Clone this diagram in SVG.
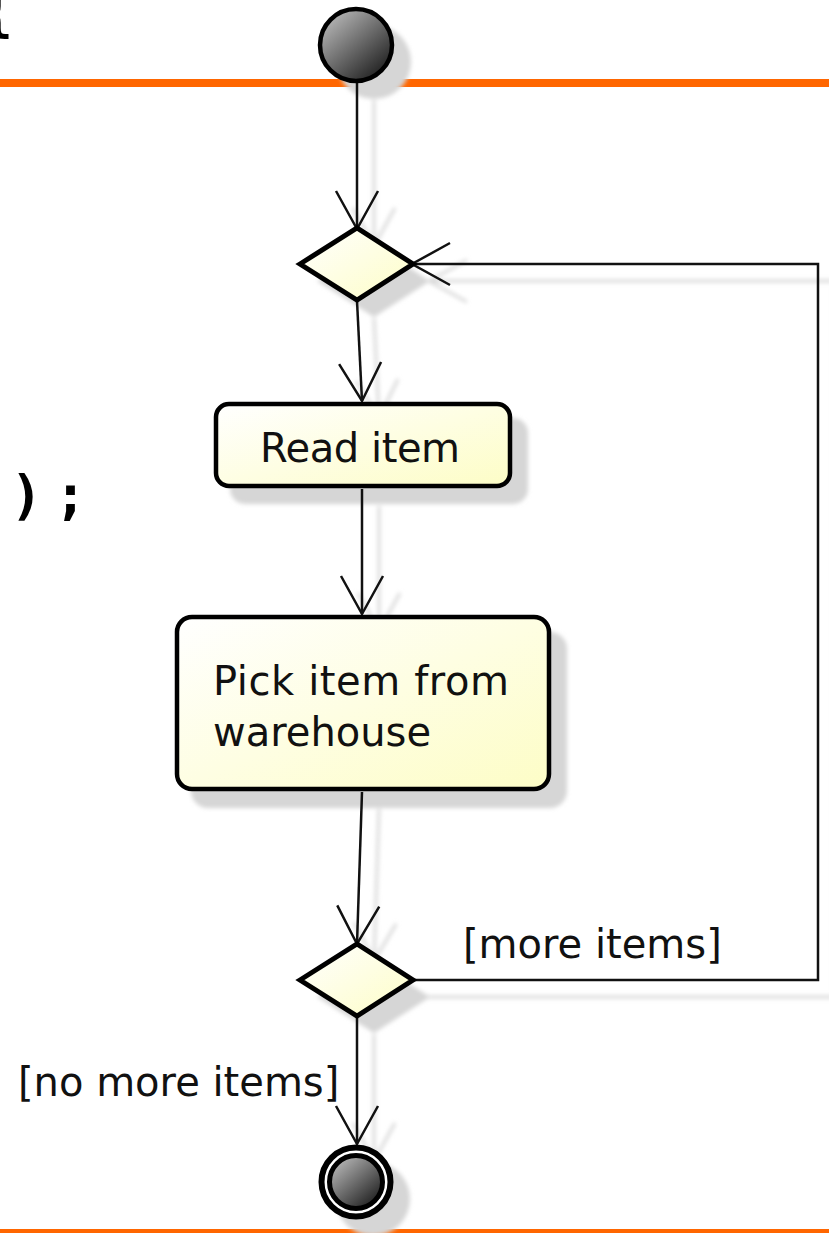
<svg xmlns="http://www.w3.org/2000/svg" width="829" height="1233" viewBox="0 0 829 1233">
<defs>
<style>
.conn{fill:none;stroke:#111;stroke-width:2.5;}
.shl{fill:none;stroke:#d9d9d9;stroke-width:3;}
.shf{fill:#d6d6d6;stroke:none;}
.box{fill:url(#yel);stroke:#000;stroke-width:4.5;}
.dia{fill:url(#yel);stroke:#000;stroke-width:5;stroke-linejoin:miter;}
.lbl{font-family:"DejaVu Sans","Noto Sans",sans-serif;font-size:40px;fill:#111;}
.code{font-family:"DejaVu Sans Mono","Liberation Mono",monospace;font-weight:bold;font-size:54px;fill:#000;}
</style>
<linearGradient id="yel" x1="0" y1="0" x2="1" y2="1">
<stop offset="0" stop-color="#ffffff"/>
<stop offset="1" stop-color="#fdfdc6"/>
</linearGradient>
<linearGradient id="ball" x1="0.15" y1="0.1" x2="0.85" y2="0.9">
<stop offset="0" stop-color="#b4b4b4"/>
<stop offset="1" stop-color="#222"/>
</linearGradient>
<filter id="blur" x="-20%" y="-20%" width="140%" height="140%">
<feGaussianBlur stdDeviation="2"/>
</filter>
<marker id="arr" markerUnits="userSpaceOnUse" markerWidth="44" markerHeight="50" viewBox="-40 -25 44 50" refX="0" refY="0" orient="auto" overflow="visible">
<path d="M-38,-21 L0,0 L-38,21" fill="none" stroke="#111" stroke-width="2.5"/>
</marker>
<marker id="arrs" markerUnits="userSpaceOnUse" markerWidth="44" markerHeight="50" viewBox="-40 -25 44 50" refX="0" refY="0" orient="auto" overflow="visible">
<path d="M-38,-21 L0,0 L-38,21" fill="none" stroke="#d9d9d9" stroke-width="3"/>
</marker>
</defs>

<g id="page-rules">
<rect x="0" y="79" width="829" height="8" fill="#ff6600"/>
<rect x="0" y="1229" width="829" height="4" fill="#ff6600"/>
</g>

<g id="code-fragments">
<text class="code" x="-3" y="31" text-anchor="middle">{</text>
<text class="code" x="26.5 70.5" y="514" text-anchor="middle">);</text>
</g>

<g id="shadows" filter="url(#blur)">
<circle class="shf" cx="374" cy="62" r="37"/>
<polygon class="shf" points="317,281 374,245 430,281 374,317"/>
<rect class="shf" x="230" y="418" width="298" height="86" rx="15"/>
<rect class="shf" x="191" y="632" width="376" height="176" rx="17"/>
<polygon class="shf" points="317,997 374,961 430,997 374,1033"/>
<circle class="shf" cx="373" cy="1199" r="37"/>
<line class="shl" x1="374" y1="100" x2="374" y2="246" marker-end="url(#arrs)"/>
<line class="shl" x1="374" y1="318" x2="379" y2="418" marker-end="url(#arrs)"/>
<line class="shl" x1="379" y1="506" x2="379" y2="631" marker-end="url(#arrs)"/>
<line class="shl" x1="379" y1="809" x2="374" y2="961" marker-end="url(#arrs)"/>
<line class="shl" x1="374" y1="1034" x2="374" y2="1161" marker-end="url(#arrs)"/>
<polyline class="shl" points="428,997 835,997 835,281 429,281" marker-end="url(#arrs)"/>
</g>

<g id="connectors">
<line class="conn" x1="357" y1="83" x2="357" y2="229" marker-end="url(#arr)"/>
<line class="conn" x1="357" y1="301" x2="362" y2="401" marker-end="url(#arr)"/>
<line class="conn" x1="362" y1="489" x2="362" y2="614" marker-end="url(#arr)"/>
<line class="conn" x1="362" y1="792" x2="357" y2="944" marker-end="url(#arr)"/>
<line class="conn" x1="357" y1="1017" x2="357" y2="1144" marker-end="url(#arr)"/>
<polyline class="conn" points="411,980 818,980 818,264 412,264" marker-end="url(#arr)"/>
</g>

<g id="start">
<circle cx="356" cy="45" r="36" fill="url(#ball)" stroke="#000" stroke-width="4.5"/>
</g>

<g id="merge">
<polygon class="dia" points="300,264 357,228 413,264 357,300"/>
</g>

<g id="read-item">
<rect class="box" x="216" y="404" width="294" height="82" rx="13"/>
<text class="lbl" x="260" y="462" textLength="200" lengthAdjust="spacing">Read item</text>
</g>

<g id="pick-item">
<rect class="box" x="177" y="617" width="372" height="172" rx="15"/>
<text class="lbl" x="213" y="695" textLength="296" lengthAdjust="spacing">Pick item from</text>
<text class="lbl" x="213" y="746">warehouse</text>
</g>

<g id="branch">
<polygon class="dia" points="300,980 357,944 413,980 357,1016"/>
</g>

<g id="end">
<circle cx="356" cy="1182" r="34.5" fill="#fff" stroke="#000" stroke-width="6"/>
<circle cx="356" cy="1182" r="26.5" fill="url(#ball)" stroke="#000" stroke-width="5"/>
</g>

<g id="labels">
<text class="lbl" x="463" y="958">[more items]</text>
<text class="lbl" x="18" y="1096">[no more items]</text>
</g>
</svg>
